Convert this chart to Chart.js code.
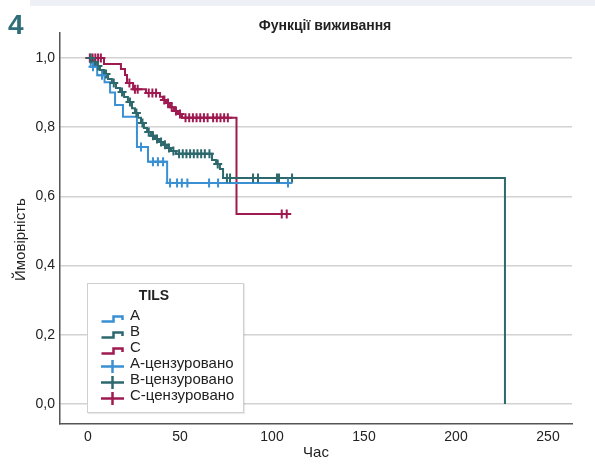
<!DOCTYPE html>
<html><head><meta charset="utf-8">
<script src="https://cdn.jsdelivr.net/npm/chart.js@4"></script>
<style>
html,body{margin:0;padding:0;background:#fff;}
#wrap{position:relative;width:595px;height:468px;overflow:hidden;font-family:"Liberation Sans Narrow","Liberation Sans",Arial,sans-serif;color:#222;}
#band{position:absolute;left:30px;top:0;width:565px;height:6px;background:#edf1f5;}
#num{position:absolute;left:8px;top:11px;font:bold 28px "Liberation Sans",Arial,sans-serif;color:#2f6e78;line-height:1;}
#title{position:absolute;left:200px;width:250px;top:17px;text-align:center;font-weight:bold;font-size:14px;line-height:16px;}
#ylab{position:absolute;left:12px;top:180px;height:120px;width:16px;writing-mode:vertical-rl;transform:rotate(180deg);text-align:center;font-size:15px;line-height:16px;white-space:nowrap;color:#222;}
#xlab{position:absolute;left:266px;width:100px;top:443px;text-align:center;font-size:15px;line-height:17px;white-space:nowrap;}
#legend{position:absolute;left:87px;top:283px;width:157px;height:130px;box-sizing:border-box;border:1px solid #cfcfcf;background:#fff;box-shadow:1px 1px 1px rgba(0,0,0,0.08);}
#legend .ttl{position:absolute;left:0;width:132px;top:3px;text-align:center;font-weight:bold;font-size:14px;line-height:16px;}
#legend .row{position:absolute;left:0;height:16px;width:155px;}
#legend .row svg{position:absolute;left:12px;top:0;}
#legend .row span{position:absolute;left:42px;top:0;font-size:15px;line-height:16px;white-space:nowrap;}
canvas{position:absolute;left:0;top:0;}
</style>
</head><body>
<div id="wrap">
<div id="band"></div>
<canvas id="c" width="595" height="468"></canvas>
<div id="num">4</div>
<div id="title">Функції виживання</div>
<div id="ylab">Ймовірність</div>
<div id="xlab">Час</div>
<div id="legend"></div>
</div>
<script>
// ---- data ----
const xTicks = [0, 50, 100, 150, 200, 250];
const yTicks = [0, 0.2, 0.4, 0.6, 0.8, 1.0];
const legendTitle = 'TILS';
const groupNames = ['A', 'B', 'C'];
const censorNames = ['А-цензуровано', 'B-цензуровано', 'C-цензуровано'];

// group A: event times and survival after each step
const aTime = [0, 1.5, 5, 9, 12, 14.7, 19, 26.6, 32.6, 43, 110];
const aSurv = [1.0, 0.975, 0.95, 0.93, 0.9, 0.864, 0.83, 0.743, 0.70, 0.639, 0.639];
const aCensTime = [2.7, 7.6, 28.8, 35.3, 38, 40.8, 44.6, 48.4, 51, 54, 65.8, 70.7, 108.7];
const aCensSurv = [0.975, 0.95, 0.743, 0.70, 0.70, 0.70, 0.639, 0.639, 0.639, 0.639, 0.639, 0.639, 0.639];

// group B
const bTime = [0, 2.2, 4.3, 6.5, 8.7, 10.9, 13.0, 15.2, 17.4, 19.6, 21.7, 23.9, 25.5, 27.2, 28.8, 30.4, 32.1, 34.2, 36.4, 38.6, 40.8, 42.9, 45.1, 47.8, 67.4, 69.6, 71.7, 73.4, 226.6];
const bSurv = [1.0, 0.988, 0.977, 0.965, 0.954, 0.939, 0.928, 0.913, 0.902, 0.887, 0.873, 0.855, 0.841, 0.827, 0.812, 0.798, 0.786, 0.775, 0.766, 0.757, 0.749, 0.740, 0.731, 0.723, 0.705, 0.694, 0.679, 0.653, 0.0];
const bCensTime = [1.5, 3.3, 5.4, 9.8, 14, 18.5, 22.8, 26.3, 29.6, 33, 35.3, 37.5, 39.7, 41.8, 44, 46.4, 49.5, 51.5, 53.5, 55.5, 57.5, 59.5, 61.5, 63.5, 66, 70.5, 75.5, 77.2, 89.7, 92.4, 102.7, 103.8, 110.9];
const bCensSurv = [1.0, 0.988, 0.977, 0.954, 0.928, 0.902, 0.873, 0.841, 0.812, 0.786, 0.775, 0.766, 0.757, 0.749, 0.740, 0.731, 0.723, 0.723, 0.723, 0.723, 0.723, 0.723, 0.723, 0.723, 0.723, 0.694, 0.653, 0.653, 0.653, 0.653, 0.653, 0.653, 0.653];

// group C
const cTime = [0, 8.7, 17.9, 20.1, 21.2, 24.5, 31.5, 39.1, 40.8, 42.4, 44.6, 46.7, 48.9, 51.1, 80.7, 108.5];
const cSurv = [1.0, 0.983, 0.968, 0.951, 0.928, 0.910, 0.899, 0.888, 0.879, 0.870, 0.858, 0.847, 0.838, 0.827, 0.549, 0.549];
const cCensTime = [1, 2.5, 4, 5.5, 7, 22.5, 25.5, 27, 33, 35, 37, 41.5, 43.5, 45.5, 47.8, 50, 53, 55, 57, 59, 61, 63, 65, 68, 70, 72, 74, 76, 105.3, 108];
const cCensSurv = [1, 1, 1, 1, 1, 0.928, 0.910, 0.910, 0.899, 0.899, 0.899, 0.879, 0.870, 0.858, 0.847, 0.838, 0.827, 0.827, 0.827, 0.827, 0.827, 0.827, 0.827, 0.827, 0.827, 0.827, 0.827, 0.827, 0.549, 0.549];

// ---- styling ----
const colors = ['#3a90d2', '#2d686d', '#9e1a50'];
const FONT = '"Liberation Sans Narrow","Liberation Sans",Arial,sans-serif';

function pts(t, s) { return t.map((v, i) => ({ x: v, y: s[i] })); }

function lineDs(name, t, s, col) {
  return { type: 'line', label: name, data: pts(t, s), borderColor: col, backgroundColor: col,
    borderWidth: 2, stepped: 'before', pointRadius: 0, fill: false, order: 2 };
}
function censDs(name, t, s, col) {
  return { type: 'scatter', label: name, data: pts(t, s), borderColor: col, backgroundColor: col,
    pointStyle: 'cross', pointRadius: 4.5, pointBorderWidth: 2, showLine: false, order: 1 };
}

new Chart(document.getElementById('c'), {
  type: 'line',
  data: { datasets: [
    lineDs(groupNames[0], aTime, aSurv, colors[0]),
    lineDs(groupNames[1], bTime, bSurv, colors[1]),
    lineDs(groupNames[2], cTime, cSurv, colors[2]),
    censDs(censorNames[0], aCensTime, aCensSurv, colors[0]),
    censDs(censorNames[1], bCensTime, bCensSurv, colors[1]),
    censDs(censorNames[2], cCensTime, cCensSurv, colors[2])
  ] },
  options: {
    responsive: false, animation: false, devicePixelRatio: 1,
    layout: { padding: { top: 33, right: 23, left: 0, bottom: 0 } },
    plugins: { legend: { display: false }, tooltip: { enabled: false }, title: { display: false } },
    scales: {
      x: { type: 'linear', min: -15.22, max: 263.04,
        afterBuildTicks: s => { s.ticks = xTicks.map(v => ({ value: v })); },
        afterFit: s => { s.height = 44; },
        grid: { display: false, drawTicks: false },
        border: { display: true, color: '#555', width: 1.5 },
        ticks: { padding: 5, color: '#222', maxRotation: 0, font: { family: FONT, size: 14 }, callback: v => String(v) } },
      y: { type: 'linear', min: -0.0578, max: 1.0723,
        afterBuildTicks: s => { s.ticks = yTicks.map(v => ({ value: v })); },
        afterFit: s => { s.width = 60; },
        grid: { color: '#d2d2d2', lineWidth: 1.5, drawTicks: false },
        border: { display: true, color: '#555', width: 1.5 },
        ticks: { padding: 5, color: '#222', font: { family: FONT, size: 14 }, callback: v => v.toFixed(1).replace('.', ',') } }
    }
  }
});

// ---- legend (HTML) ----
const lg = document.getElementById('legend');
const t = document.createElement('div'); t.className = 'ttl'; t.textContent = legendTitle; lg.appendChild(t);
const rowTops = [23, 39, 55, 71, 87, 103];
const all = groupNames.concat(censorNames);
all.forEach((name, i) => {
  const r = document.createElement('div'); r.className = 'row'; r.style.top = rowTops[i] + 'px';
  const col = colors[i % 3];
  const icon = i < 3
    ? '<svg width="26" height="20"><path d="M1.5,14.5 H13.5 V9.5 H22.5 V13" fill="none" stroke="' + col + '" stroke-width="2.5"/></svg>'
    : '<svg width="26" height="20"><path d="M1,11.5 H24 M12.5,5 V18" fill="none" stroke="' + col + '" stroke-width="2.5"/></svg>';
  r.innerHTML = icon + '<span>' + name + '</span>';
  lg.appendChild(r);
});
</script>
</body></html>
